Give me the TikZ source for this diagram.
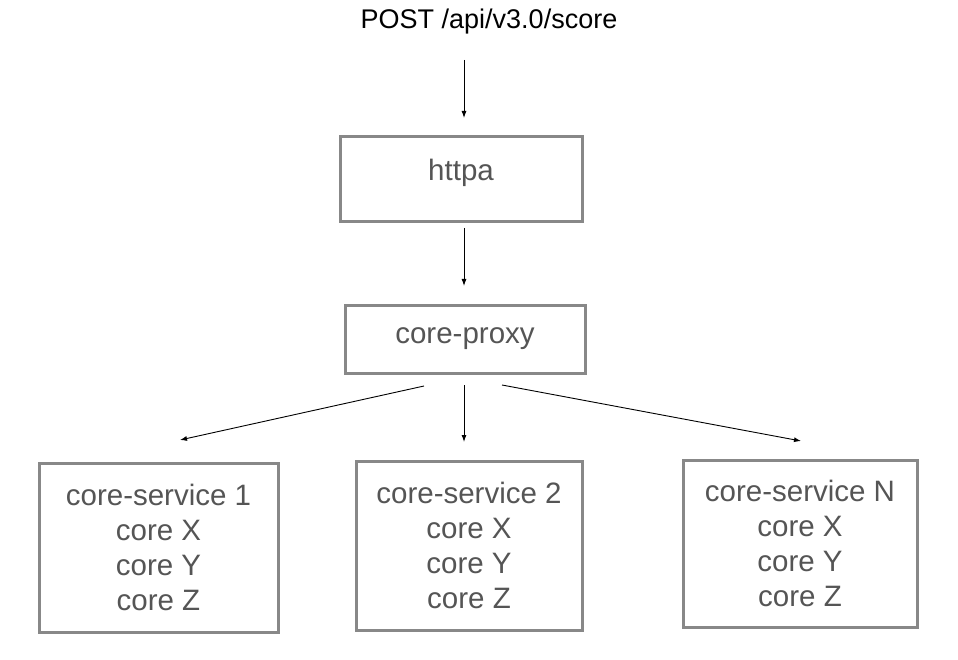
\documentclass[tikz,border=0pt]{standalone}
\usepackage{fontspec}
\setmainfont{Liberation Sans}
\usetikzlibrary{arrows.meta, positioning}
\definecolor{boxgray}{HTML}{888888}
\definecolor{txtgray}{HTML}{555555}

\begin{document}
\begin{tikzpicture}[x=1pt,y=-1pt,
    box/.style={draw=boxgray, line width=3pt, text=txtgray, align=center,
                font=\fontsize{29.5}{35}\selectfont, inner sep=0pt},
    arr/.style={-{Latex[length=7pt,width=5pt]}, line width=0.9pt}]
  \useasboundingbox (0,0) rectangle (958,660);

  \node[font=\fontsize{27}{32}\selectfont] (req) at (489,22) {POST /api/v3.0/score};
  \node[box, minimum width=242pt, minimum height=85pt,
        label={[text=txtgray, font=\fontsize{29.5}{35}\selectfont, yshift=7pt]center:httpa}]
        (httpa) at (461,179.5) {};
  \node[box, minimum width=240pt, minimum height=68pt] (proxy) at (465,339) {core-proxy};

  \node[box, minimum width=239pt, minimum height=169pt] (svc1) at (158.5,547.5)
    {core-service 1\\core X\\core Y\\core Z};
  \node[box, minimum width=226pt, minimum height=169pt] (svc2) at (469,545.5)
    {core-service 2\\core X\\core Y\\core Z};
  \node[box, minimum width=234pt, minimum height=167pt] (svcN) at (800,543.5)
    {core-service N\\core X\\core Y\\core Z};

  % arrow end points
  \coordinate (reqout) at (464,60);
  \coordinate (httpain) at (464,118);
  \coordinate (httpaout) at (464,228);
  \coordinate (proxyin) at (464,286);
  \coordinate (out1) at (424,386);
  \coordinate (out2) at (464,385);
  \coordinate (outN) at (502,385);
  \coordinate (in1) at (180,440);
  \coordinate (in2) at (464,442);
  \coordinate (inN) at (801,441);

  \draw[arr] (reqout) -- (httpain);
  \draw[arr] (httpaout) -- (proxyin);
  \draw[arr] (out1) -- (in1);
  \draw[arr] (out2) -- (in2);
  \draw[arr] (outN) -- (inN);
\end{tikzpicture}
\end{document}
